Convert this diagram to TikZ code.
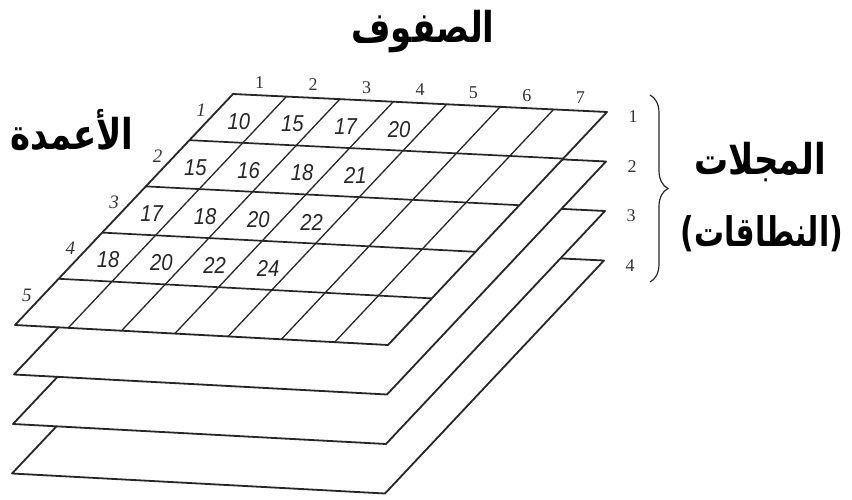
\documentclass[tikz,border=0pt]{standalone}
\usepackage{fontspec}
\usetikzlibrary{calc,decorations.pathreplacing}
\TeXXeTstate=1
\newfontfamily\arabicfont[Script=Arabic]{DejaVu Sans}
\newfontfamily\plainsans{DejaVu Sans}
\newfontfamily\numfont[FakeStretch=0.88]{Liberation Sans}
\newfontfamily\lblfont{Liberation Serif}
\begin{document}
\begin{tikzpicture}[x=1pt,y=-1pt,
  layer/.style={draw=black!85,fill=white,line width=1.8pt,line join=round},
  rowline/.style={draw=black!85,line width=1.7pt},
  colline/.style={draw=black!85,line width=1.3pt},
  num/.style={font=\numfont\itshape\fontsize{23}{23}\selectfont,text=black!85,inner sep=0pt},
  lbl/.style={font=\lblfont\fontsize{18}{18}\selectfont,text=black!80,inner sep=0pt},
  slbl/.style={font=\lblfont\itshape\fontsize{19}{19}\selectfont,text=black!80,inner sep=0pt},
  artitle/.style={font=\arabicfont\bfseries\fontsize{34}{34}\selectfont,inner sep=0pt}]
\useasboundingbox (0,0) rectangle (852,500);
% back layers (bands 4, 3, 2)
\foreach \k in {3,2,1}{
  \begin{scope}[shift={(-1*\k,49.5*\k)}]
    \draw[layer] (233,94) -- (607,112) -- (388,345) -- (15,325) -- cycle;
  \end{scope}
}
% front layer (band 1)
\coordinate (TL) at (233,94);
\coordinate (TR) at (607,112);
\coordinate (BR) at (388,345);
\coordinate (BL) at (15,325);
\fill[white] (TL) -- (TR) -- (BR) -- (BL) -- cycle;
\foreach \i in {1,...,6}
  \draw[colline] ($(TL)!\i/7!(TR)$) -- ($(BL)!\i/7!(BR)$);
\foreach \j in {1,...,4}
  \draw[rowline] ($(TL)!\j/5!(BL)$) -- ($(TR)!\j/5!(BR)$);
\draw[layer,fill=none] (TL) -- (TR) -- (BR) -- (BL) -- cycle;
% cell values
\foreach \val [count=\n from 0] in {10,15,17,20,15,16,18,21,17,18,20,22,18,20,22,24}{
  \pgfmathtruncatemacro\r{div(\n,4)}
  \pgfmathtruncatemacro\c{mod(\n,4)}
  \coordinate (ct) at ($(TL)!{(\c+0.5)/7}!(TR)$);
  \coordinate (cb) at ($(BL)!{(\c+0.5)/7}!(BR)$);
  \node[num] (v-\r-\c) at ($($(ct)!{(\r+0.5)/5}!(cb)$)+(1,3)$) {\val};
}
% column numbers on top
\foreach \i in {1,...,7}
  \node[lbl] (c-\i) at ($($(TL)!{(\i-0.5)/7}!(TR)$)+(0,-13)$) {\i};
% row numbers on the left
\foreach \j in {1,...,5}
  \node[slbl] (r-\j) at ($($(TL)!{(\j-0.5)/5}!(BL)$)+(-10,-7)$) {\j};
% band numbers on the right
\foreach \k in {1,...,4}
  \node[lbl] (b-\k) at ($(TR)+(26,5)+(-1*\k+1,49.5*\k-49.5)$) {\k};
% brace
\coordinate (brtop) at (650,95);
\coordinate (brbot) at (650,282);
\draw[black!85,line width=1.2pt,decoration={brace,amplitude=18pt,aspect=0.5},decorate] (brtop) -- (brbot);
% Arabic labels
\node[artitle] (rows) at (423,32) {\scalebox{1}[1.25]{\beginR الصفوف\endR}};
\node[artitle] (cols) at (72,130) {\scalebox{1}[1.25]{\beginR الأعمدة\endR}};
\node[artitle] (mag) at (760,162) {\scalebox{1}[1.25]{\beginR المجلات\endR}};
\node[artitle] (bands) at (762,234) {\scalebox{0.88}[1.2]{{\plainsans\bfseries(}\beginR النطاقات\endR{\plainsans\bfseries)}}};
\end{tikzpicture}
\end{document}
